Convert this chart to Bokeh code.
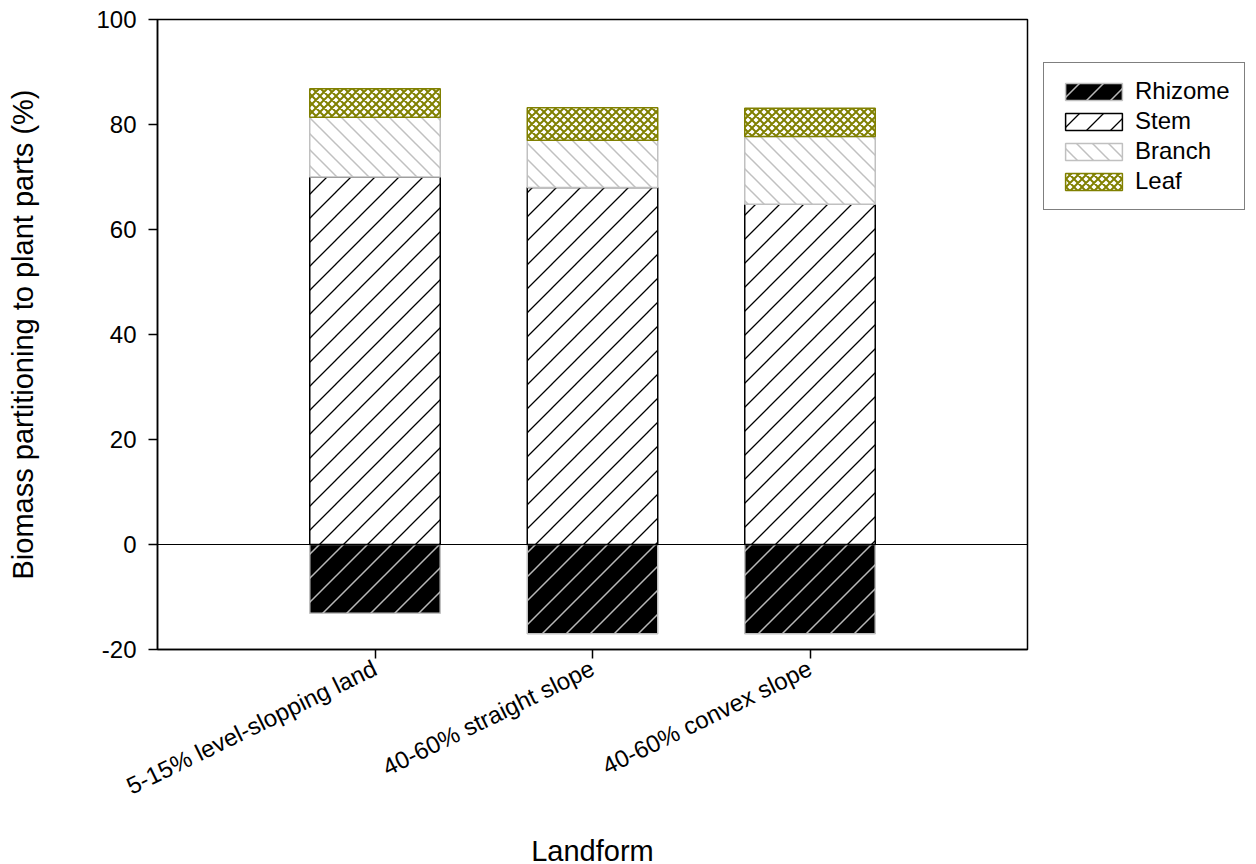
import base64
from bokeh.plotting import figure
from bokeh.models import ColumnDataSource, Range1d, Span, Legend, LegendItem, FixedTicker, ImageURLTexture
from bokeh.core.properties import value
from bokeh.embed import file_html
from bokeh.resources import INLINE
import numpy as np

categories = ["5-15% level-slopping land", "40-60% straight slope", "40-60% convex slope"]
rhizome = [-13.1, -17.0, -17.0]
stem = [70.0, 68.0, 64.8]
branch = [11.4, 9.0, 12.9]
leaf = [5.4, 6.2, 5.4]
y_ticks = [-20, 0, 20, 40, 60, 80, 100]

x = np.arange(1, len(categories) + 1)
stem_top = np.array(stem)
branch_top = stem_top + np.array(branch)
leaf_top = branch_top + np.array(leaf)

src = ColumnDataSource(dict(
    x=x,
    rh_bot=rhizome, rh_top=[0] * len(x),
    st_bot=[0] * len(x), st_top=stem_top,
    br_bot=stem_top, br_top=branch_top,
    lf_bot=branch_top, lf_top=leaf_top,
))

FONT = "Liberation Sans"


def tile(s, color, w, fwd=True, back=False):
    d = ""
    if fwd:
        d += f"M-2,{s+2} L{s+2},-2 M-2,2 L2,-2 M{s-2},{s+2} L{s+2},{s-2} "
    if back:
        d += f"M-2,-2 L{s+2},{s+2} M{s-2},-2 L{s+2},2 M-2,{s-2} L2,{s+2} "
    svg = (f"<svg xmlns='http://www.w3.org/2000/svg' width='{s}' height='{s}' viewBox='0 0 {s} {s}'>"
           f"<path d='{d}' stroke='{color}' stroke-width='{w}' fill='none'/></svg>")
    return ImageURLTexture(url="data:image/svg+xml;base64," + base64.b64encode(svg.encode()).decode())


extra = {
    "rh": tile(24, "#b8b8b8", 1.5),
    "st": tile(24, "black", 1.3),
    "br": tile(16, "#c0c0c0", 1.5, fwd=False, back=True),
    "lf": tile(8, "#808000", 2, fwd=True, back=True),
}

p = figure(frame_width=870, frame_height=630,
           min_border_left=157, min_border_right=229, min_border_top=19, min_border_bottom=215,
           x_range=Range1d(0, 4), y_range=Range1d(-20, 100),
           output_backend="svg", toolbar_location=None)
p.xgrid.visible = False
p.ygrid.visible = False
p.outline_line_color = "black"
p.outline_line_width = 1.5
p.background_fill_color = "white"
p.border_fill_color = "white"

W = 0.6
r_rh = p.vbar(x="x", bottom="rh_bot", top="rh_top", width=W, source=src,
              fill_color="black", line_color="#c0c0c0", line_width=1.5,
              hatch_pattern=value("rh"), hatch_extra=extra)
r_st = p.vbar(x="x", bottom="st_bot", top="st_top", width=W, source=src,
              fill_color="white", line_color="black", line_width=1.5,
              hatch_pattern=value("st"), hatch_extra=extra)
r_br = p.vbar(x="x", bottom="br_bot", top="br_top", width=W, source=src,
              fill_color="white", line_color="#c0c0c0", line_width=1.5,
              hatch_pattern=value("br"), hatch_extra=extra)
r_lf = p.vbar(x="x", bottom="lf_bot", top="lf_top", width=W, source=src,
              fill_color="white", line_color="#808000", line_width=1.5,
              hatch_pattern=value("lf"), hatch_extra=extra)

p.add_layout(Span(location=0, dimension="width", line_color="black", line_width=1.2))

# axes
p.yaxis.ticker = FixedTicker(ticks=y_ticks)
p.yaxis.major_label_overrides = {t: str(t) for t in y_ticks}
p.xaxis.ticker = FixedTicker(ticks=list(x))
p.xaxis.major_label_overrides = {int(i): c for i, c in zip(x, categories)}
p.xaxis.major_label_orientation = 0.455
for ax in (p.xaxis[0], p.yaxis[0]):
    ax.axis_line_color = "black"
    ax.axis_line_width = 1.5
    ax.major_tick_line_color = "black"
    ax.major_tick_line_width = 1.5
    ax.major_tick_out = 9
    ax.major_tick_in = 0
    ax.minor_tick_line_color = None
    ax.major_label_text_font = FONT
    ax.major_label_text_font_size = "24px"
    ax.major_label_text_color = "black"
    ax.axis_label_text_font = FONT
    ax.axis_label_text_font_size = "29px"
    ax.axis_label_text_font_style = "normal"
    ax.axis_label_text_color = "black"
p.yaxis.major_label_standoff = 12
p.xaxis.major_label_standoff = 8
p.yaxis.axis_label = "Biomass partitioning to plant parts (%)"
p.xaxis.axis_label = "Landform"
p.yaxis.axis_label_standoff = 54
p.xaxis.axis_label_standoff = 20

legend = Legend(items=[
    LegendItem(label="Rhizome", renderers=[r_rh]),
    LegendItem(label="Stem", renderers=[r_st]),
    LegendItem(label="Branch", renderers=[r_br]),
    LegendItem(label="Leaf", renderers=[r_lf]),
], location=(16, 439))
legend.border_line_color = "black"
legend.border_line_width = 1.5
legend.background_fill_alpha = 1
legend.label_text_font = FONT
legend.label_text_font_size = "24px"
legend.label_text_color = "black"
legend.glyph_width = 71
legend.glyph_height = 21
legend.label_height = 20
legend.spacing = 2
legend.padding = 14
legend.margin = 0
legend.label_standoff = 6
p.add_layout(legend, "right")

open("out.html", "w").write(file_html(p, INLINE))
